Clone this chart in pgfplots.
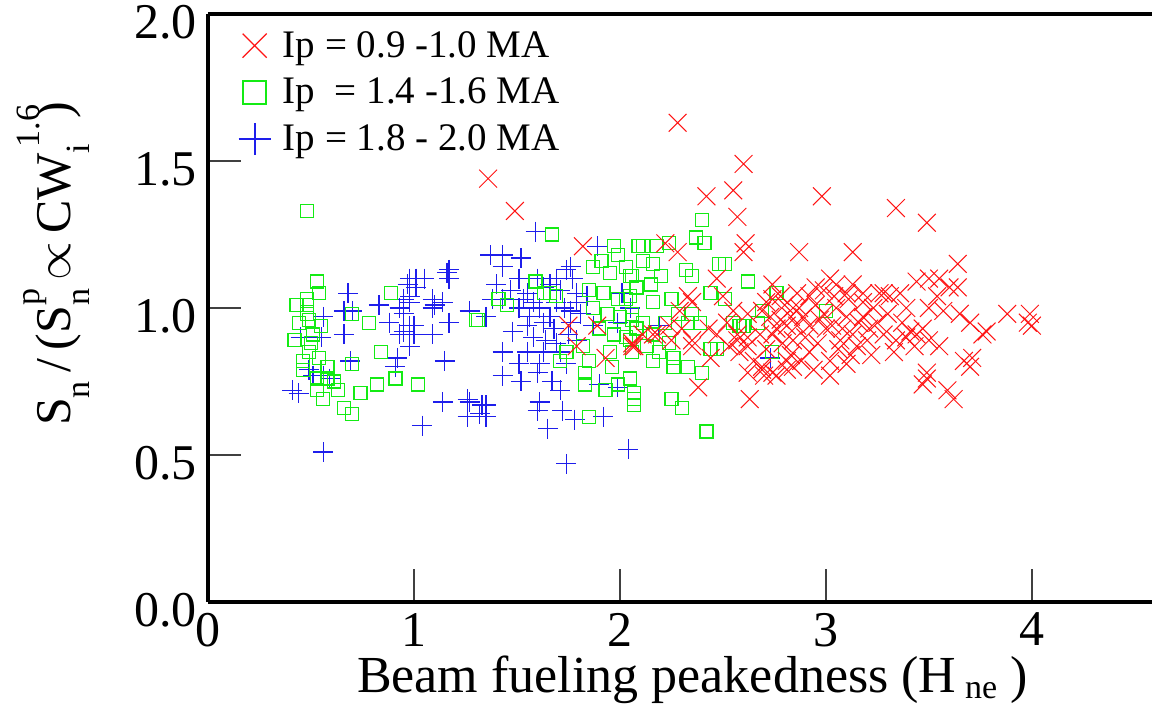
\documentclass[border=0pt]{standalone}
\usepackage{amsmath}
\usepackage{fontspec}
\setmainfont{Liberation Serif}
\usepackage{pgfplots}
\pgfplotsset{compat=1.18}
\definecolor{cred}{RGB}{255,20,20}
\definecolor{cgreen}{RGB}{20,235,20}
\definecolor{cblue}{RGB}{30,30,235}
\newcommand{\ssz}{\fontsize{17}{19}\selectfont}
\newcommand{\sbp}[2]{\rlap{\raisebox{0.62em}{\ssz #1}}\raisebox{-0.38em}{\ssz #2}}
\newcommand{\sbb}[1]{\raisebox{-0.38em}{\ssz #1}}
\begin{document}
\begin{tikzpicture}
\begin{axis}[
  name=ax,
  scale only axis, width=472pt, height=294pt,
  xmin=0, xmax=4.583, ymin=0, ymax=2,
  axis x line=box, axis y line=left,
  axis line style={line width=1.8pt, -},
  xtick={0,1,2,3,4}, ytick={0,0.5,1,1.5,2},
  xtick pos=bottom, ytick pos=left,
  tick align=inside, major tick length=16.5pt,
  tick style={line width=0.8pt, black!75},
  yticklabel style={/pgf/number format/fixed, /pgf/number format/fixed zerofill, /pgf/number format/precision=1, inner ysep=0pt, xshift=-2pt, yshift=-4pt},
  xticklabel style={yshift=-2pt},
  /pgf/number format/assume math mode=true,
  ticklabel style={font=\fontsize{25}{29}\selectfont},
  xlabel={Beam fueling peakedness (H\,\raisebox{-0.25ex}{\fontsize{17}{20}\selectfont ne} )},
  ylabel={S\sbb{n}\,/\,(S\sbp{p}{n}\,$\propto$\,CW\sbp{\,1.6}{i}\hspace{0.5em})},
  every axis x label/.style={at={(axis description cs:0.513,0)}, anchor=base, yshift=-45.5pt, font=\fontsize{26}{30}\selectfont},
  every axis y label/.style={at={(axis description cs:-0.146,0.575)}, anchor=base, rotate=90, font=\fontsize{25}{30}\selectfont},
  legend style={at={(axis description cs:0.0257,0.985)}, anchor=north west, draw=none, fill=none,
    font=\fontsize{19.5}{23}\selectfont, row sep=5pt},
  legend cell align=left,
  legend image code/.code={\draw[mark repeat=2,mark phase=2,#1] plot coordinates {(0cm,0cm) (0.3cm,0cm) (0.6cm,0cm)}; \path (0.72cm,0cm);},
]
\addlegendimage{only marks, mark=x, mark size=8.5pt, color=cred, mark options={line width=0.6pt}}
\addlegendentry{Ip = 0.9 -1.0 MA}
\addlegendimage{only marks, mark=square, mark size=5.7pt, color=cgreen, mark options={line width=1pt}}
\addlegendentry{Ip\ \ = 1.4 -1.6 MA}
\addlegendimage{only marks, mark=+, mark size=8pt, color=cblue, mark options={line width=1pt}}
\addlegendentry{Ip = 1.8 - 2.0 MA}
\addplot[forget plot, only marks, mark=+, mark size=5pt, color=cblue, mark options={line width=0.6pt}] coordinates {
(0.68,1.05) (0.70,0.99) (0.66,0.99) (0.56,0.97) (0.66,0.91) (0.55,0.90) (0.45,0.90) (0.69,0.82)
(0.41,0.72) (0.44,0.71) (0.56,0.51) (0.83,1.01) (0.98,1.10) (1.01,1.10) (1.05,1.10) (0.98,1.04)
(0.95,1.03) (0.93,1.00) (0.98,1.02) (0.95,0.98) (0.88,0.95) (0.93,0.91) (0.98,0.94) (1.00,0.91)
(0.98,0.87) (1.09,1.03) (1.09,1.00) (1.14,1.02) (1.09,0.91) (1.17,0.95) (1.17,1.13) (1.17,1.10)
(1.15,0.82) (0.91,0.80) (1.14,0.68) (1.04,0.60) (1.27,0.99) (1.26,0.69) (1.26,0.63) (0.51,0.77)
(0.56,0.77) (0.49,0.79) (0.59,0.76) (1.16,1.12) (0.97,1.08) (1.01,1.07) (1.10,1.01) (0.95,0.92)
(1.00,0.94) (0.92,0.83) (1.32,0.64) (1.35,0.67) (1.37,1.18) (1.40,1.08) (1.59,1.26) (1.43,1.18)
(1.52,1.17) (1.89,1.21) (1.43,1.14) (1.60,1.10) (1.51,1.10) (1.69,1.10) (1.74,1.13) (1.76,1.14)
(1.77,1.10) (1.63,1.07) (1.71,1.06) (1.47,1.06) (1.55,1.05) (1.79,1.05) (1.38,1.03) (1.43,1.03)
(1.35,0.97) (1.51,1.00) (1.61,1.00) (1.69,1.02) (1.79,1.02) (1.56,0.97) (1.66,0.97) (1.76,0.99)
(1.55,0.94) (1.63,0.95) (1.76,0.95) (1.87,0.94) (1.99,0.95) (2.05,1.00) (1.58,0.90) (1.69,0.88)
(1.79,0.89) (1.43,0.85) (1.55,0.85) (1.63,0.85) (1.71,0.85) (1.51,0.81) (1.61,0.81) (1.74,0.81)
(1.43,0.77) (1.52,0.75) (1.60,0.78) (1.67,0.75) (1.71,0.72) (1.90,0.74) (1.99,0.73) (1.27,0.68)
(1.33,0.67) (1.35,0.63) (1.61,0.68) (1.60,0.65) (1.72,0.65) (1.78,0.62) (1.65,0.59) (1.92,0.63)
(2.04,0.52) (1.74,0.47) (2.73,0.83) (2.19,0.94) (2.01,1.05) (1.53,1.03) (1.66,1.08) (1.73,1.00)
(1.58,1.02) (1.68,0.93) (1.81,0.98) (1.48,0.92) (1.64,0.89) (1.75,0.91) (1.84,1.04)
};
\addplot[forget plot, only marks, mark=square, mark size=3.25pt, color=cgreen, mark options={line width=0.6pt}] coordinates {
(0.48,1.33) (0.53,1.09) (0.54,1.05) (0.48,1.03) (0.43,1.01) (0.48,1.01) (0.48,0.98) (0.44,0.95)
(0.49,0.96) (0.55,0.94) (0.51,0.91) (0.42,0.89) (0.50,0.88) (0.49,0.85) (0.54,0.83) (0.46,0.82)
(0.58,0.80) (0.46,0.79) (0.53,0.76) (0.58,0.76) (0.61,0.75) (0.53,0.72) (0.63,0.72) (0.56,0.69)
(0.66,0.66) (0.70,0.64) (0.70,0.98) (0.78,0.95) (0.89,1.05) (0.84,0.85) (0.70,0.81) (0.82,0.74)
(0.91,0.76) (1.02,0.74) (0.74,0.71) (1.31,0.96) (1.41,1.03)
(1.67,1.25) (1.97,1.21) (1.99,1.18) (2.09,1.21) (1.87,1.14) (1.91,1.16) (1.95,1.12) (2.03,1.14)
(2.06,1.11) (1.59,1.09) (1.66,1.05) (1.45,1.01) (1.30,0.96) (1.85,1.06) (1.92,1.05) (1.99,1.03)
(2.05,1.04) (1.87,1.00) (1.94,0.98) (2.00,0.97) (2.06,0.96) (1.90,0.93) (1.97,0.91) (2.03,0.90)
(2.08,0.93) (1.82,0.87) (1.95,0.85) (2.06,0.85) (1.71,0.82) (1.85,0.82) (1.96,0.80) (1.83,0.78)
(2.05,0.76) (1.83,0.74) (1.93,0.72) (1.99,0.74) (2.07,0.69) (1.85,0.63) (1.63,1.05) (1.69,1.04)
(1.74,0.85)
(2.40,1.30) (2.37,1.24) (2.41,1.22) (2.24,1.22) (2.11,1.21) (2.18,1.21) (2.11,1.16) (2.16,1.15)
(2.20,1.11) (2.32,1.13) (2.35,1.11) (2.48,1.15) (2.51,1.15) (2.05,1.11) (2.62,1.09) (2.08,1.07)
(2.15,1.08) (2.25,1.03) (2.44,1.05) (2.51,1.03) (2.76,1.05) (2.69,0.99) (2.35,0.98) (2.28,0.98)
(2.16,1.02) (2.03,1.03) (2.06,0.98) (2.11,0.95) (2.22,0.95) (2.33,0.95) (2.39,0.95) (2.55,0.95)
(2.67,0.95) (2.58,0.94) (2.74,0.85) (2.16,0.91) (2.05,0.89) (2.13,0.87) (2.24,0.88) (2.44,0.86)
(2.47,0.86) (2.19,0.85) (2.16,0.82) (2.26,0.83) (2.26,0.80) (2.33,0.80) (2.40,0.78) (2.07,0.71)
(2.07,0.67) (2.25,0.69) (2.30,0.66) (2.42,0.58) (3.00,0.99) (2.60,0.94)
};
\addplot[forget plot, only marks, mark=x, mark size=6.3pt, color=cred, mark options={line width=0.5pt}] coordinates {
(1.36,1.44) (1.49,1.33) (1.82,1.21) (2.28,1.63) (2.42,1.38) (2.55,1.40) (2.60,1.49) (2.57,1.31)
(2.61,1.22) (2.60,1.19) (2.22,1.22) (2.28,1.19) (2.98,1.38) (3.34,1.34) (3.49,1.29) (2.87,1.19)
(3.13,1.19) (3.64,1.15) (1.75,0.94) (1.89,0.94) (1.79,0.87) (1.93,0.83) (2.06,0.87) (2.06,0.88)
(2.16,0.91) (2.24,0.94) (2.29,0.99) (2.33,1.04) (2.35,1.02) (2.47,1.10) (2.50,1.04) (2.25,0.89)
(2.35,0.87) (2.44,0.83) (2.38,0.73) (2.63,0.69) (2.52,0.95) (2.57,0.89) (2.62,0.87) (2.65,0.82)
(2.69,0.80) (2.74,0.78) (2.68,0.91) (2.73,0.97) (2.74,1.03) (2.74,1.08) (2.69,0.99) (2.62,0.98)
(2.55,0.99) (2.30,0.93) (2.35,0.89) (2.43,0.93) (2.47,0.91) (2.18,0.91) (2.11,0.91) (2.07,0.87)
(2.78,1.04) (2.71,1.02) (2.84,1.00) (2.57,0.91) (2.62,0.90) (2.53,0.87) (2.58,0.85) (2.69,0.79)
(2.62,0.78) (2.76,0.77) (2.81,0.82) (2.84,0.89) (2.74,0.91) (2.81,0.94)
(3.50,1.10) (3.55,1.10) (3.60,1.07) (3.64,1.07) (3.44,1.09) (3.54,1.04) (3.50,1.00) (3.57,0.99)
(3.65,0.98) (3.70,0.95) (3.76,0.91) (3.47,0.93) (3.44,0.91) (3.50,0.89) (3.55,0.87) (3.67,0.82)
(3.70,0.80) (3.49,0.78) (3.47,0.74) (3.59,0.72) (3.62,0.69) (3.36,1.05) (3.39,1.00) (3.31,1.04)
(3.26,1.05) (3.23,1.00) (3.18,0.97) (3.28,0.91) (3.34,0.89) (3.39,0.90) (3.20,0.89) (3.13,1.08)
(3.02,1.10) (2.99,1.06) (2.92,1.04) (2.87,1.00) (2.99,0.98) (3.05,1.00) (3.10,0.97) (2.86,0.94)
(2.92,0.94) (3.00,0.93) (3.07,0.89) (3.15,0.87) (2.92,0.85) (3.02,0.82) (3.10,0.81) (3.02,0.77)
(2.84,0.80) (3.21,0.93) (3.13,0.91)
(3.78,0.92) (3.88,0.98) (3.99,0.98) (4.00,0.94) (3.98,0.95) (3.71,0.83) (3.49,0.76) (2.81,0.79)
(2.70,0.77)
(2.78,0.96) (2.80,1.01) (2.83,0.97) (2.86,1.05) (2.89,0.97) (2.90,0.90) (2.95,1.01) (2.96,0.88)
(2.97,0.96) (3.03,0.94) (3.04,1.04) (3.06,0.86) (3.08,0.93) (3.11,1.03) (3.12,0.84) (3.16,0.95)
(3.18,1.02) (3.22,0.84) (3.25,0.95) (3.30,0.98) (3.33,0.85) (3.37,0.95) (3.41,0.92) (3.43,0.87)
(2.79,0.88) (2.83,0.84) (2.88,0.82) (2.94,0.79) (2.71,0.86) (2.76,0.93) (2.95,1.07) (3.05,1.08)
(3.10,1.05) (3.18,1.05) (3.28,1.05)
};
\end{axis}
\pgfresetboundingbox
\path[use as bounding box] ([xshift=-104pt,yshift=-56.5pt]ax.south west) rectangle ([yshift=7pt]ax.north east);
\end{tikzpicture}
\end{document}
